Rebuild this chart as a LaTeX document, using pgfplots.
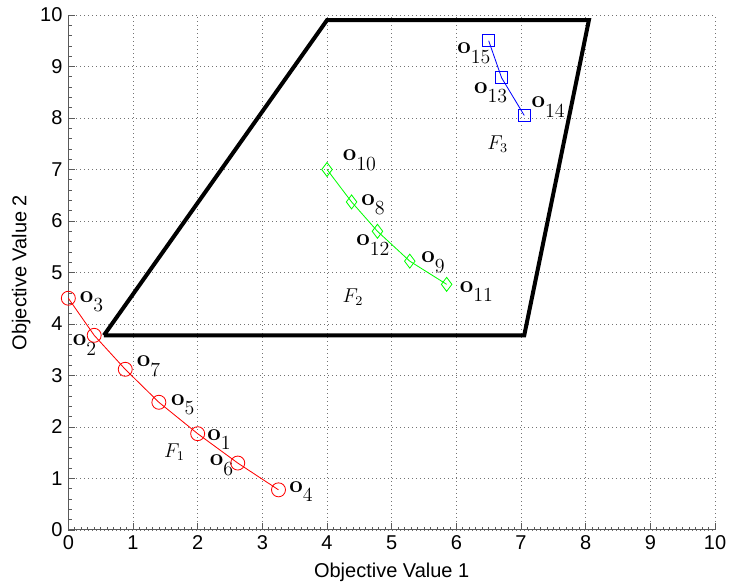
\documentclass[border=0pt]{standalone}
\usepackage{pgfplots}
\pgfplotsset{compat=1.18}
\usepackage[no-math]{fontspec}
\setmainfont{Liberation Sans}
\newcommand\lo[1]{\fontsize{13.5}{16}\selectfont$\mathbf{o}$\raisebox{-5.5pt}{\fontsize{12}{14}\selectfont$#1$}}
\begin{document}
\begin{tikzpicture}
\begin{axis}[
  scale only axis,
  width=388pt, height=309pt,
  xmin=0, xmax=10, ymin=0, ymax=10,
  xtick={0,...,10}, ytick={0,...,10},
  minor x tick num=9, minor y tick num=4,
  axis x line*=bottom, axis y line*=left,
  axis line style={black!65, line width=0.6pt},
  every tick/.style={black!65},
  major tick length=4pt, minor tick length=2pt,
  grid=major,
  major grid style={black!55, dotted, line width=0.5pt},
  /pgf/number format/assume math mode=true,
  tick label style={font=\fontsize{12}{14}\selectfont},
  label style={font=\fontsize{12}{14}\selectfont},
  xlabel={Objective Value 1}, ylabel={Objective Value 2},
  xlabel style={yshift=-1pt}, ylabel style={yshift=-1pt},
  clip=false,
]
\coordinate (sw) at (rel axis cs:0,0);
\coordinate (ne) at (rel axis cs:1,1);
\addplot[black, line width=2.4pt, line join=miter] coordinates {
 (0.55,3.78) (4.0,9.9) (8.05,9.9) (7.05,3.78) (0.55,3.78)};
\addplot[red, line width=0.5pt, mark=o, mark size=4.2pt, mark options={line width=0.5pt}] coordinates {
 (0,4.5) (0.4,3.78) (0.88,3.12) (1.4,2.48) (2.0,1.87) (2.62,1.3) (3.25,0.78)};
\addplot[green, line width=0.5pt, mark=diamond, mark size=4.2pt, mark options={line width=0.5pt}] coordinates {
 (4.0,7.0) (4.38,6.37) (4.78,5.8) (5.28,5.22) (5.85,4.77)};
\addplot[blue, line width=0.5pt, mark=square, mark size=3.6pt, mark options={line width=0.5pt}] coordinates {
 (6.5,9.5) (6.7,8.78) (7.05,8.05)};
\begin{scope}[every node/.style={inner sep=0pt}]
\node at (axis cs:0.36,4.43) {\lo{3}};
\node at (axis cs:0.25,3.59) {\lo{2}};
\node at (axis cs:1.24,3.18) {\lo{7}};
\node at (axis cs:1.77,2.43) {\lo{5}};
\node at (axis cs:2.33,1.75) {\lo{1}};
\node at (axis cs:2.37,1.26) {\lo{6}};
\node at (axis cs:3.6,0.74) {\lo{4}};
\node at (axis cs:4.5,7.18) {\lo{10}};
\node at (axis cs:4.71,6.31) {\lo{8}};
\node at (axis cs:4.71,5.53) {\lo{12}};
\node at (axis cs:5.64,5.2) {\lo{9}};
\node at (axis cs:6.31,4.62) {\lo{11}};
\node at (axis cs:6.27,9.26) {\lo{15}};
\node at (axis cs:6.53,8.49) {\lo{13}};
\node at (axis cs:7.42,8.21) {\lo{14}};
\end{scope}
\begin{scope}[every node/.style={font=\large}]
\node at (axis cs:1.64,1.51) {$F_1$};
\node at (axis cs:4.40,4.52) {$F_2$};
\node at (axis cs:6.64,7.5) {$F_3$};
\end{scope}
\end{axis}
\pgfresetboundingbox
\path ([shift={(-41pt,-34pt)}]sw) rectangle ([shift={(8.4pt,9pt)}]ne);
\end{tikzpicture}
\end{document}
